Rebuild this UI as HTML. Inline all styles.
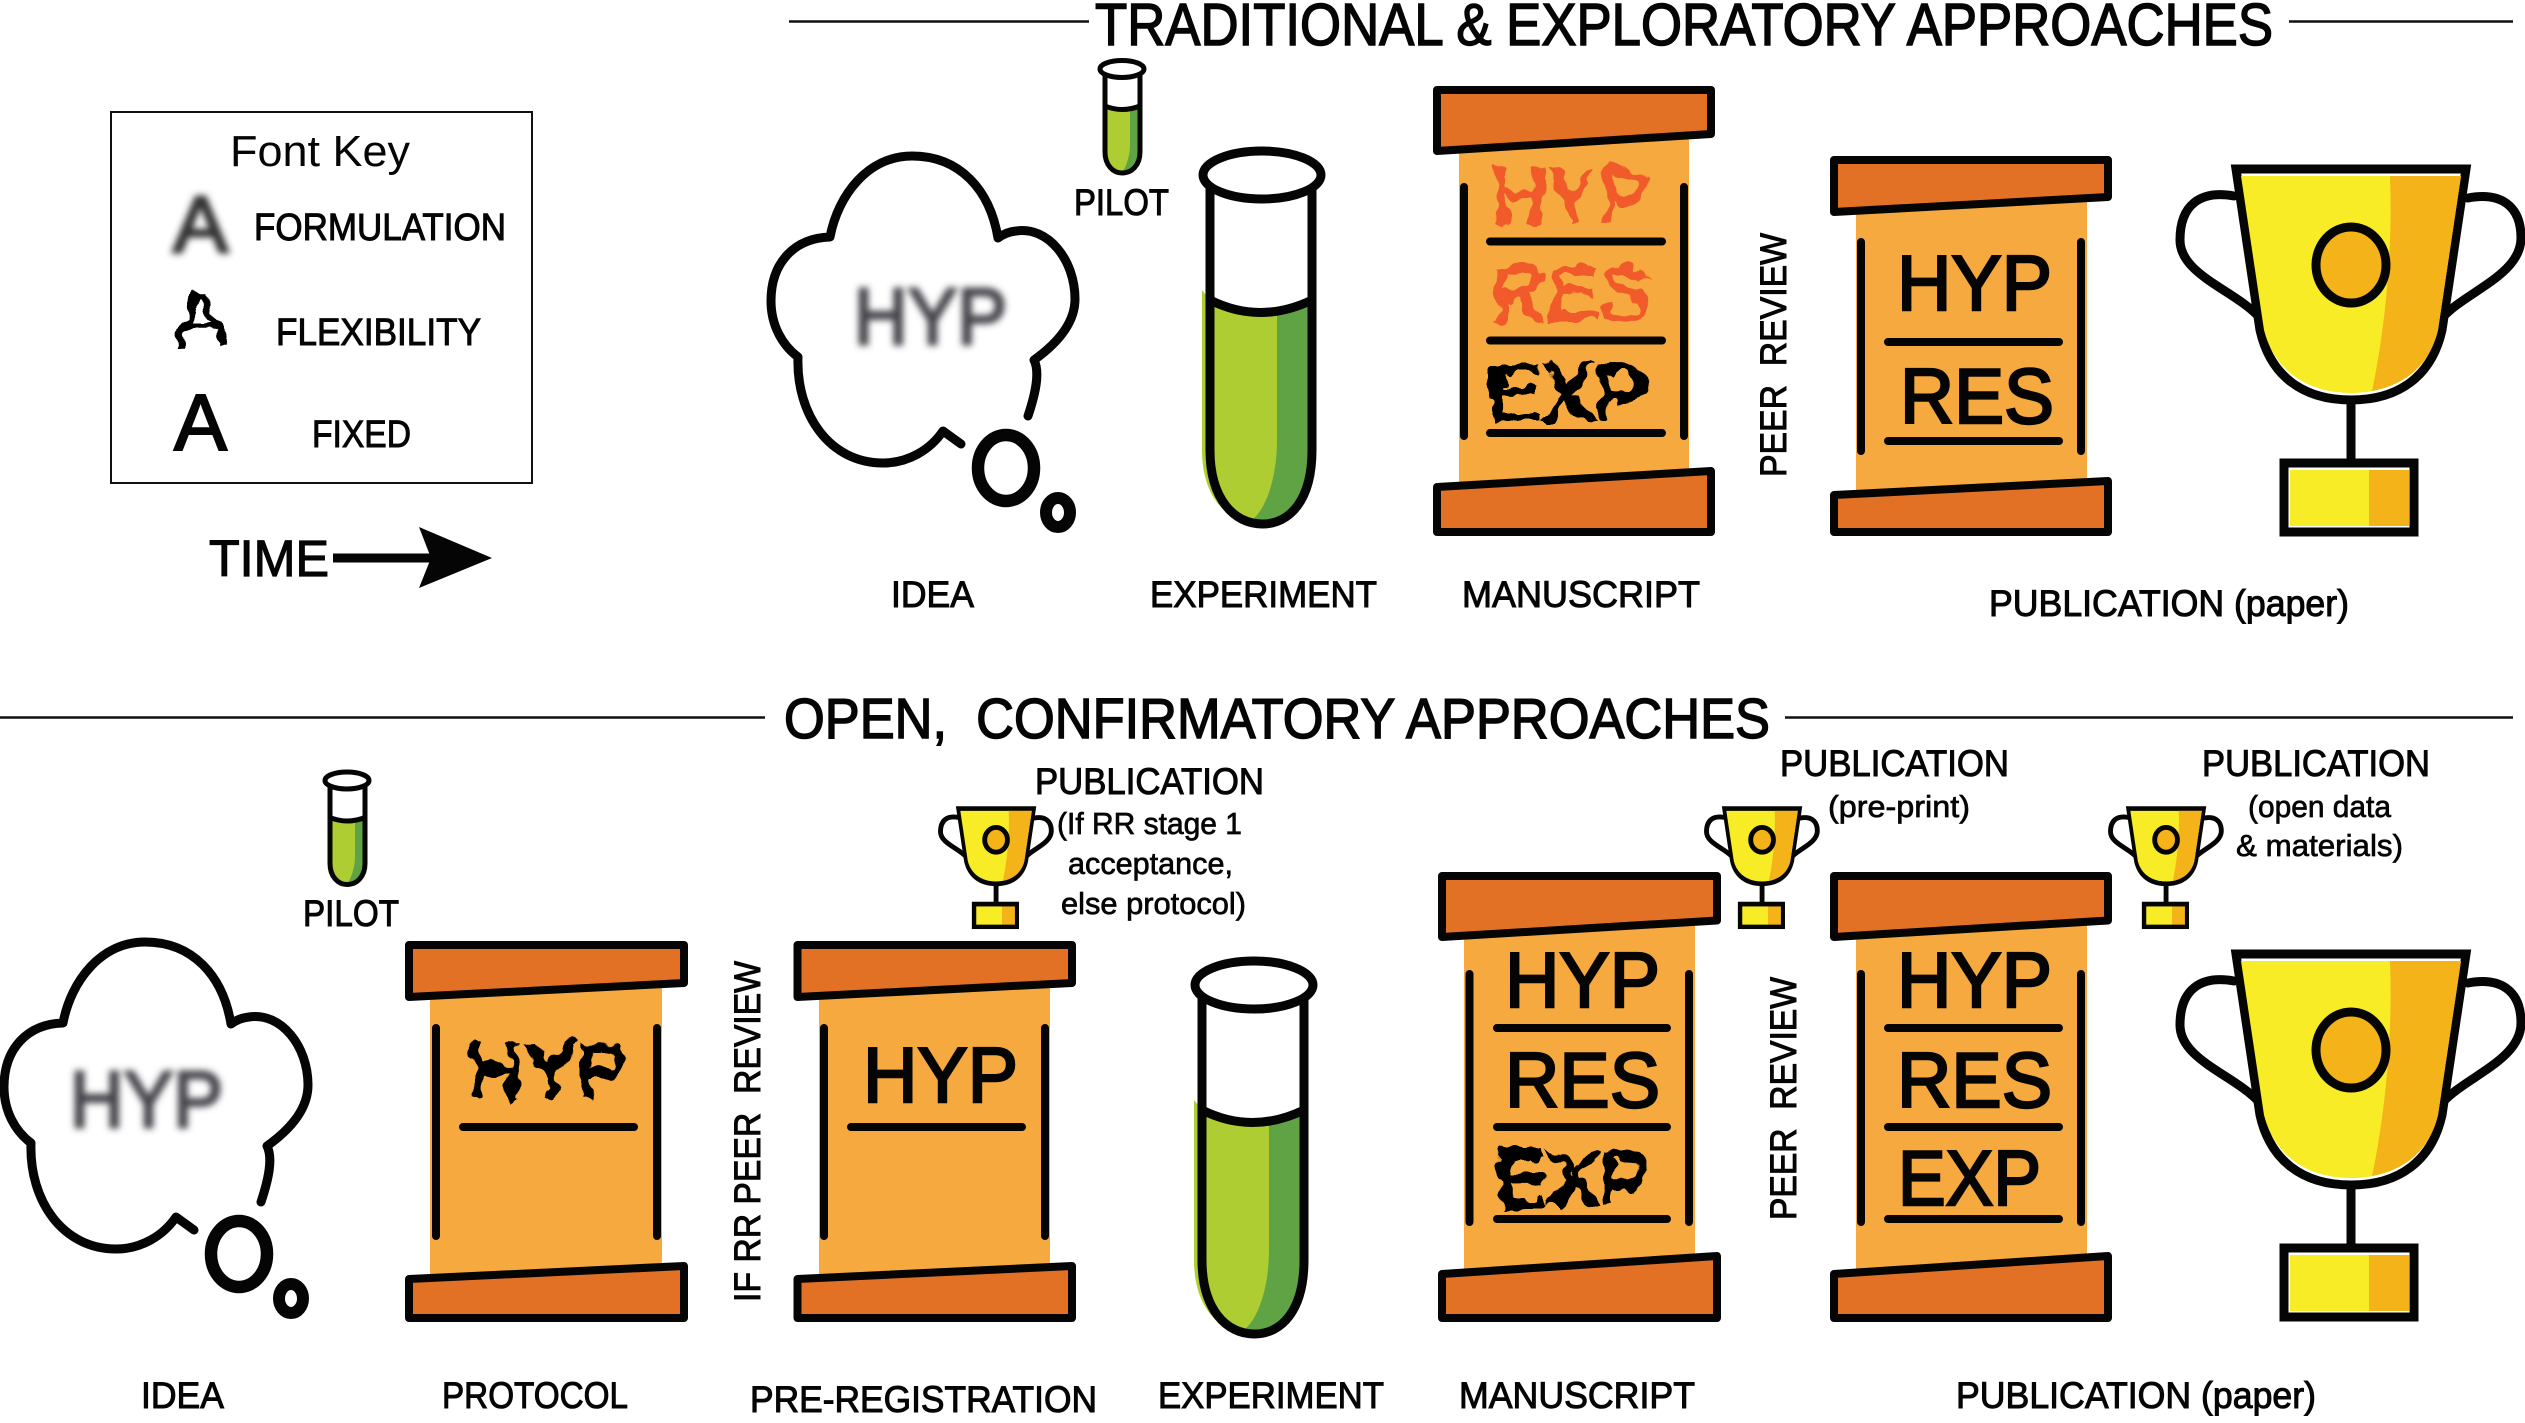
<!DOCTYPE html>
<html>
<head>
<meta charset="utf-8">
<title>Traditional and open research approaches</title>
<style>
html,body{margin:0;padding:0;background:#fff}
svg{display:block}
text{font-family:"Liberation Sans",sans-serif;fill:#050505}
</style>
</head>
<body>
<svg width="2525" height="1423" viewBox="0 0 2525 1423" xmlns="http://www.w3.org/2000/svg">
<defs>
<filter id="blur" x="-20%" y="-30%" width="140%" height="160%"><feGaussianBlur stdDeviation="3.5"/></filter>
<filter id="flex" x="-10%" y="-20%" width="120%" height="140%">
<feTurbulence type="fractalNoise" baseFrequency="0.05" numOctaves="2" seed="4" result="n"/>
<feDisplacementMap in="SourceGraphic" in2="n" scale="22" xChannelSelector="R" yChannelSelector="G"/>
</filter>
<g id="cloud">
<path d="M1028 416 C1036 392 1040 372 1034 360 C1062 340 1075 320 1075 299 C1075 260 1048 226 1016 231 Q1006 232 998 238 C990 190 960 156 912 156 C868 156 838 195 830 237 C795 238 771 262 771 301 C771 325 782 345 798 357 C796 415 830 463 883 463 C908 463 930 450 943 431 L961 444" fill="none" stroke="#050505" stroke-width="9" stroke-linecap="round" stroke-linejoin="round"/>
<ellipse cx="1006" cy="468" rx="28" ry="33" fill="none" stroke="#050505" stroke-width="12.500"/>
<ellipse cx="1058" cy="512.5" rx="12" ry="14.5" fill="none" stroke="#050505" stroke-width="12"/>
</g>
<g id="tube">
<path d="M1210 180 V450 C1210 500 1235 524 1262 524 C1290 524 1312 500 1312 450 V180 Z" fill="#fff"/>
<path d="M1202 290 L1210 300 Q1260 325 1312 300 V450 C1312 500 1290 524 1262 524 C1225 524 1202 495 1202 450 Z" fill="#adcd33"/>
<path d="M1277 315 Q1295 312 1312 300 V450 C1312 500 1290 524 1262 524 L1252 520 C1265 510 1277 480 1277 440 Z" fill="#5fa344"/>
<path d="M1210 180 V450 C1210 500 1235 524 1262 524 C1290 524 1312 500 1312 450 V180" fill="none" stroke="#050505" stroke-width="9"/>
<path d="M1210 300 Q1260 325 1312 300" fill="none" stroke="#050505" stroke-width="9"/>
<ellipse cx="1262" cy="175" rx="59" ry="24" fill="#fff" stroke="#050505" stroke-width="9"/>
</g>
<g id="pilot">
<path d="M1105 70 V152 C1105 165 1113 173 1122 173 C1132 173 1140 165 1140 152 V70 Z" fill="#fff"/>
<path d="M1105 106 Q1122 113 1140 106 V152 C1140 165 1132 173 1122 173 C1113 173 1105 165 1105 152 Z" fill="#adcd33"/>
<path d="M1130 110 L1140 106 V152 C1140 165 1132 173 1122 173 C1127 165 1130 155 1130 145 Z" fill="#5fa344"/>
<path d="M1105 70 V152 C1105 165 1113 173 1122 173 C1132 173 1140 165 1140 152 V70" fill="none" stroke="#050505" stroke-width="5"/>
<path d="M1105 106 Q1122 113 1140 106" fill="none" stroke="#050505" stroke-width="5"/>
<ellipse cx="1122" cy="69" rx="22" ry="8.500" fill="#fff" stroke="#050505" stroke-width="5"/>
</g>
<g id="trophy">
<path d="M2234 196 C2200 190 2180 205 2180 240 C2180 275 2235 290 2260 318" fill="none" stroke="#050505" stroke-linecap="round"/>
<path d="M2468 198 C2500 192 2521 205 2521 238 C2521 275 2465 292 2442 318" fill="none" stroke="#050505" stroke-linecap="round"/>
<path d="M2351 400 V462" fill="none" stroke="#050505"/>
<path d="M2236 169 H2466 L2442 330 C2432 375 2400 400 2351 400 C2302 400 2270 375 2260 330 Z" fill="#fff" stroke="#050505" stroke-linejoin="miter"/>
<path d="M2241 176 H2461 L2438 330 C2428 370 2395 393 2351 393 C2307 393 2274 370 2264 330 Z" fill="#f7ec26"/>
<path d="M2390 176 H2461 L2438 330 C2430 365 2405 385 2372 391 C2385 330 2393 250 2390 176 Z" fill="#f4b318"/>
<ellipse cx="2351" cy="265" rx="35" ry="38" fill="#f4b318" stroke="#050505"/>
<rect x="2284" y="463" width="130" height="69" fill="#fff" stroke="#050505"/>
<rect x="2290" y="470" width="79" height="56" fill="#f7ec26"/>
<rect x="2369" y="470" width="40" height="56" fill="#f4b318"/>
</g>
</defs>

<!-- titles -->
<g stroke="#111" stroke-width="2.5">
<path d="M789 21.5 H1089 M2289 21.5 H2513 M0 717.5 H765 M1785 717.5 H2513"/>
</g>
<text x="1095" y="45" font-size="59" textLength="1178" lengthAdjust="spacingAndGlyphs" stroke="#050505" stroke-width="1.500">TRADITIONAL &amp; EXPLORATORY APPROACHES</text>
<text x="784" y="738" font-size="57" textLength="986" lengthAdjust="spacingAndGlyphs" xml:space="preserve" stroke="#050505" stroke-width="1.500">OPEN,  CONFIRMATORY APPROACHES</text>

<!-- font key -->
<rect x="111" y="112" width="421" height="371" fill="#fff" stroke="#111" stroke-width="2"/>
<text x="230" y="166" font-size="44" textLength="180" lengthAdjust="spacingAndGlyphs">Font Key</text>
<text x="173" y="252" font-size="80" textLength="55" lengthAdjust="spacingAndGlyphs" filter="url(#blur)" stroke="#333" stroke-width="3" style="fill:#333">A</text>
<text x="254" y="240" font-size="38" textLength="252" lengthAdjust="spacingAndGlyphs" stroke="#050505" stroke-width="1">FORMULATION</text>
<text x="174" y="346" font-size="80" textLength="54" lengthAdjust="spacingAndGlyphs" filter="url(#flex)" stroke="#050505" stroke-width=".5">A</text>
<text x="276" y="345" font-size="38" textLength="205" lengthAdjust="spacingAndGlyphs" stroke="#050505" stroke-width="1">FLEXIBILITY</text>
<text x="174" y="450" font-size="80" textLength="53" lengthAdjust="spacingAndGlyphs" stroke="#050505" stroke-width="2">A</text>
<text x="312" y="447" font-size="38" textLength="99" lengthAdjust="spacingAndGlyphs" stroke="#050505" stroke-width="1">FIXED</text>
<text x="209" y="576" font-size="51" textLength="120" lengthAdjust="spacingAndGlyphs" stroke="#050505" stroke-width="1.200">TIME</text>
<path d="M333 553.5 H431 V562.5 H333 Z M419 527 L492 558 L419 588 L431 558 Z" fill="#050505"/>

<!-- top row -->
<use href="#cloud"/>
<text x="854" y="344" font-size="80" textLength="153" lengthAdjust="spacingAndGlyphs" filter="url(#blur)" stroke="#44444c" stroke-width="3" style="fill:#44444c">HYP</text>
<use href="#pilot"/>
<text x="1074" y="215" font-size="37" textLength="95" lengthAdjust="spacingAndGlyphs" stroke="#050505" stroke-width="1">PILOT</text>
<use href="#tube"/>

<!-- trad manuscript -->
<rect x="1459" y="130" width="230" height="360" fill="#f6a93f"/>
<g stroke="#050505" stroke-width="8" stroke-linecap="round" fill="none">
<path d="M1464 187 V436 M1684 187 V436 M1490 241.5 H1662 M1490 340.5 H1662 M1490 433 H1662"/>
</g>
<g fill="#e27025" stroke="#050505" stroke-width="8" stroke-linejoin="round">
<path d="M1437 90 H1711 V134 L1437 151 Z"/>
<path d="M1437 487 L1711 471 V532 H1437 Z"/>
</g>
<g font-size="78" stroke-width="3" filter="url(#flex)">
<text x="1491" y="223" textLength="159" lengthAdjust="spacingAndGlyphs" stroke="#f15a29" style="fill:#f15a29">HYP</text>
<text x="1491" y="320" textLength="159" lengthAdjust="spacingAndGlyphs" stroke="#f15a29" style="fill:#f15a29">RES</text>
<text x="1488" y="420" textLength="160" lengthAdjust="spacingAndGlyphs" stroke="#050505">EXP</text>
</g>

<text transform="translate(1786 477) rotate(-90)" font-size="37" textLength="244" lengthAdjust="spacingAndGlyphs" xml:space="preserve" stroke="#050505" stroke-width="1">PEER  REVIEW</text>

<!-- trad publication -->
<rect x="1856" y="195" width="231" height="300" fill="#f6a93f"/>
<g stroke="#050505" stroke-width="8" stroke-linecap="round" fill="none">
<path d="M1861 242 V451 M2081 242 V451 M1888 342 H2059 M1888 441 H2059"/>
</g>
<g fill="#e27025" stroke="#050505" stroke-width="8" stroke-linejoin="round">
<path d="M1834 160 H2108 V197 L1834 212 Z"/>
<path d="M1834 495 L2108 481 V532 H1834 Z"/>
</g>
<g font-size="78" stroke="#050505" stroke-width="2.500">
<text x="1897" y="310" textLength="155" lengthAdjust="spacingAndGlyphs">HYP</text>
<text x="1900" y="423" textLength="154" lengthAdjust="spacingAndGlyphs">RES</text>
</g>
<use href="#trophy" stroke-width="9"/>

<g font-size="37" stroke="#050505" stroke-width="1">
<text x="891" y="607" textLength="83" lengthAdjust="spacingAndGlyphs">IDEA</text>
<text x="1150" y="607" textLength="227" lengthAdjust="spacingAndGlyphs">EXPERIMENT</text>
<text x="1462" y="607" textLength="238" lengthAdjust="spacingAndGlyphs">MANUSCRIPT</text>
<text x="1989" y="616" textLength="360" lengthAdjust="spacingAndGlyphs">PUBLICATION (paper)</text>
</g>

<!-- bottom row -->
<use href="#cloud" transform="translate(-767 786)"/>
<text x="70" y="1127" font-size="80" textLength="153" lengthAdjust="spacingAndGlyphs" filter="url(#blur)" stroke="#44444c" stroke-width="3" style="fill:#44444c">HYP</text>
<use href="#pilot" transform="translate(-775 711.5)"/>
<text x="303" y="926" font-size="37" textLength="96" lengthAdjust="spacingAndGlyphs" stroke="#050505" stroke-width="1">PILOT</text>

<!-- protocol -->
<rect x="430" y="985" width="232" height="295" fill="#f6a93f"/>
<g stroke="#050505" stroke-width="8" stroke-linecap="round" fill="none">
<path d="M436 1028 V1236 M657 1028 V1236 M463 1127 H634"/>
</g>
<g fill="#e27025" stroke="#050505" stroke-width="8" stroke-linejoin="round">
<path d="M409 945 H684 V983 L409 997 Z"/>
<path d="M409 1279 L684 1266 V1318 H409 Z"/>
</g>
<text x="468" y="1097" font-size="78" textLength="160" lengthAdjust="spacingAndGlyphs" stroke="#050505" stroke-width="3" filter="url(#flex)">HYP</text>

<text transform="translate(760 1302) rotate(-90)" font-size="37" textLength="341" lengthAdjust="spacingAndGlyphs" xml:space="preserve" stroke="#050505" stroke-width="1">IF RR PEER  REVIEW</text>

<!-- pre-registration -->
<rect x="819" y="985" width="231" height="295" fill="#f6a93f"/>
<g stroke="#050505" stroke-width="8" stroke-linecap="round" fill="none">
<path d="M824 1028 V1236 M1045 1028 V1236 M851 1127 H1022"/>
</g>
<g fill="#e27025" stroke="#050505" stroke-width="8" stroke-linejoin="round">
<path d="M797.500 945 H1072 V983 L797.500 997 Z"/>
<path d="M797.500 1279 L1072 1266 V1318 H797.500 Z"/>
</g>
<text x="863" y="1102" font-size="78" textLength="155" lengthAdjust="spacingAndGlyphs" stroke="#050505" stroke-width="2.500">HYP</text>

<use href="#tube" transform="translate(-8 810)"/>

<!-- open manuscript -->
<rect x="1464" y="915" width="231" height="360" fill="#f6a93f"/>
<g stroke="#050505" stroke-width="8" stroke-linecap="round" fill="none">
<path d="M1469.500 974 V1222 M1689 974 V1222 M1497 1028 H1667 M1497 1127 H1667 M1497 1219 H1667"/>
</g>
<g fill="#e27025" stroke="#050505" stroke-width="8" stroke-linejoin="round">
<path d="M1442 876 H1717 V920.500 L1442 937 Z"/>
<path d="M1442 1274 L1717 1256 V1318 H1442 Z"/>
</g>
<g font-size="78" stroke="#050505" stroke-width="2.500">
<text x="1505" y="1007" textLength="155" lengthAdjust="spacingAndGlyphs">HYP</text>
<text x="1505" y="1107" textLength="155" lengthAdjust="spacingAndGlyphs">RES</text>
</g>
<text x="1495" y="1206" font-size="78" textLength="157" lengthAdjust="spacingAndGlyphs" stroke="#050505" stroke-width="3" filter="url(#flex)">EXP</text>

<text transform="translate(1796 1220) rotate(-90)" font-size="37" textLength="243" lengthAdjust="spacingAndGlyphs" xml:space="preserve" stroke="#050505" stroke-width="1">PEER  REVIEW</text>

<!-- open publication -->
<rect x="1856" y="915" width="231" height="360" fill="#f6a93f"/>
<g stroke="#050505" stroke-width="8" stroke-linecap="round" fill="none">
<path d="M1861 974 V1222 M2081 974 V1222 M1888 1028 H2059 M1888 1127 H2059 M1888 1219 H2059"/>
</g>
<g fill="#e27025" stroke="#050505" stroke-width="8" stroke-linejoin="round">
<path d="M1834 876 H2108 V920.500 L1834 937 Z"/>
<path d="M1834 1274 L2108 1256 V1318 H1834 Z"/>
</g>
<g font-size="78" stroke="#050505" stroke-width="2.500">
<text x="1897" y="1007" textLength="155" lengthAdjust="spacingAndGlyphs">HYP</text>
<text x="1897" y="1107" textLength="155" lengthAdjust="spacingAndGlyphs">RES</text>
<text x="1898" y="1205" textLength="143" lengthAdjust="spacingAndGlyphs">EXP</text>
</g>

<use href="#trophy" transform="translate(0 785)" stroke-width="9"/>
<use href="#trophy" transform="translate(232 753.700) scale(.325)" stroke-width="15"/>
<use href="#trophy" transform="translate(998 753.700) scale(.325)" stroke-width="15"/>
<use href="#trophy" transform="translate(1402 753.700) scale(.325)" stroke-width="15"/>

<g font-size="37" stroke="#050505" stroke-width="1">
<text x="1035" y="794" textLength="229" lengthAdjust="spacingAndGlyphs">PUBLICATION</text>
<text x="1780" y="776" textLength="229" lengthAdjust="spacingAndGlyphs">PUBLICATION</text>
<text x="2202" y="776" textLength="228" lengthAdjust="spacingAndGlyphs">PUBLICATION</text>
<text x="141" y="1408" textLength="83" lengthAdjust="spacingAndGlyphs">IDEA</text>
<text x="442" y="1408" textLength="186" lengthAdjust="spacingAndGlyphs">PROTOCOL</text>
<text x="750" y="1412" textLength="347" lengthAdjust="spacingAndGlyphs">PRE-REGISTRATION</text>
<text x="1158" y="1408" textLength="226" lengthAdjust="spacingAndGlyphs">EXPERIMENT</text>
<text x="1459" y="1408" textLength="236" lengthAdjust="spacingAndGlyphs">MANUSCRIPT</text>
<text x="1956" y="1408" textLength="360" lengthAdjust="spacingAndGlyphs">PUBLICATION (paper)</text>
</g>
<g font-size="31" stroke="#050505" stroke-width=".7">
<text x="1057" y="834" textLength="185" lengthAdjust="spacingAndGlyphs">(If RR stage 1</text>
<text x="1068" y="874" textLength="165" lengthAdjust="spacingAndGlyphs">acceptance,</text>
<text x="1061" y="914" textLength="185" lengthAdjust="spacingAndGlyphs">else protocol)</text>
<text x="1828" y="817" textLength="142" lengthAdjust="spacingAndGlyphs">(pre-print)</text>
<text x="2248" y="817" textLength="143" lengthAdjust="spacingAndGlyphs">(open data</text>
<text x="2236" y="856" textLength="167" lengthAdjust="spacingAndGlyphs">&amp; materials)</text>
</g>
</svg>
</body>
</html>
